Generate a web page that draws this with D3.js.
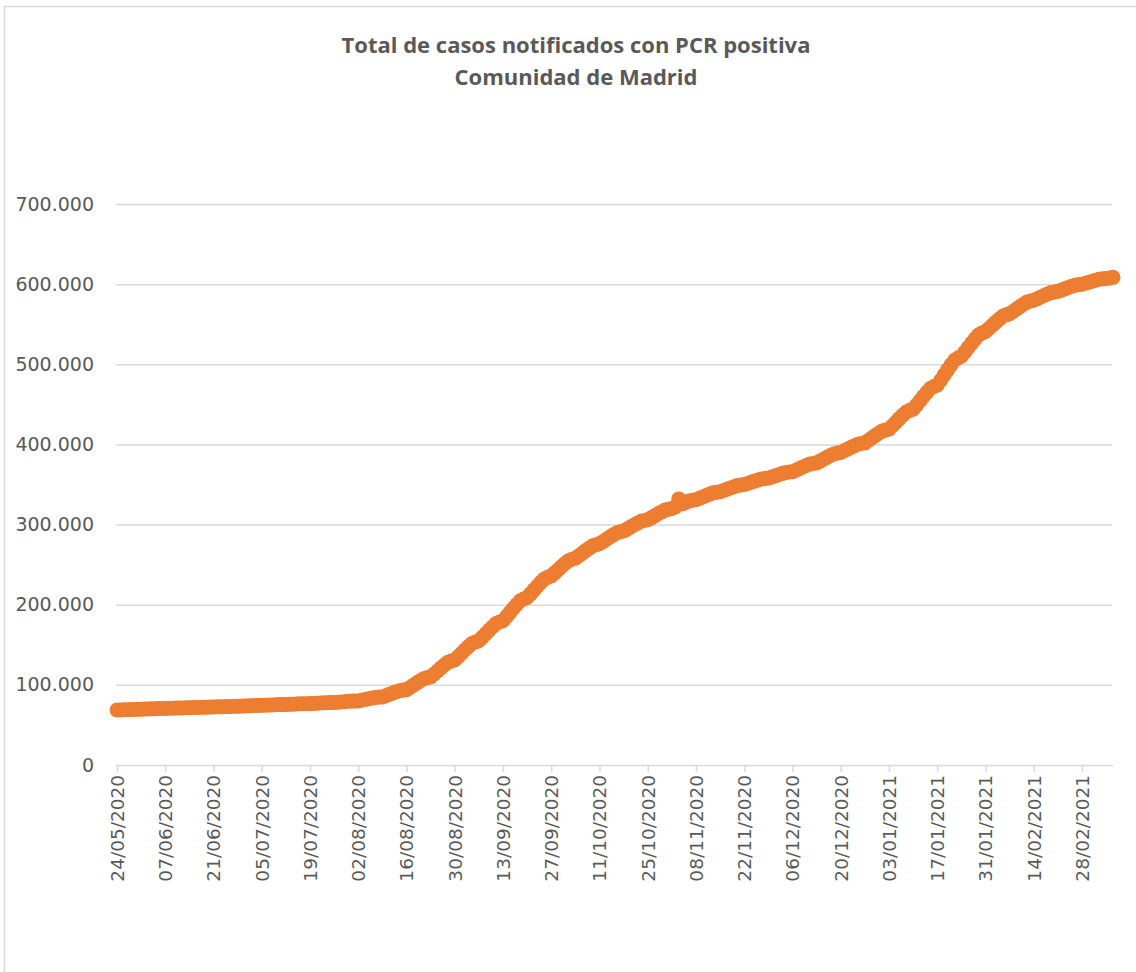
<!DOCTYPE html>
<html>
<head>
<meta charset="utf-8">
<script src="https://cdn.jsdelivr.net/npm/d3@7"></script>
<style>
  html, body { margin: 0; padding: 0; background: #fff; }
  svg { display: block; }
</style>
</head>
<body>
<svg id="chart" width="1136" height="972"></svg>
<script>
// ---- Data ----
const titleLines = ["Total de casos notificados con PCR positiva", "Comunidad de Madrid"];
const firstDate = "2020-05-24";   // one value per day from this date
const lastDate = "2021-03-09";
const yTicks = [0, 100000, 200000, 300000, 400000, 500000, 600000, 700000];
const xTickLabels = ["24/05/2020","07/06/2020","21/06/2020","05/07/2020","19/07/2020","02/08/2020",
  "16/08/2020","30/08/2020","13/09/2020","27/09/2020","11/10/2020","25/10/2020","08/11/2020",
  "22/11/2020","06/12/2020","20/12/2020","03/01/2021","17/01/2021","31/01/2021","14/02/2021","28/02/2021"];
const casos = [
  68600, 68750, 68900, 69050, 69200, 69350, 69450, 69600,
  69750, 69900, 70050, 70200, 70350, 70450, 70600,
  70730, 70860, 70990, 71120, 71250, 71380, 71500,
  71630, 71760, 71890, 72020, 72150, 72280, 72400,
  72530, 72660, 72790, 72920, 73050, 73180, 73300,
  73490, 73690, 73890, 74080, 74260, 74350, 74400,
  74590, 74790, 74990, 75180, 75360, 75450, 75500,
  75690, 75890, 76090, 76280, 76460, 76550, 76600,
  76840, 77090, 77340, 77580, 77800, 77910, 78000,
  78340, 78700, 79060, 79400, 79720, 79880, 80000,
  80850, 81750, 82650, 83500, 84300, 84700, 85000,
  86530, 88150, 89770, 91300, 92740, 93460, 94000,
  96720, 99600, 102480, 105200, 107760, 109040, 110000,
  113570, 117350, 121130, 124700, 128060, 129740, 131000,
  135080, 139400, 143720, 147800, 151640, 153560, 155000,
  159250, 163750, 168250, 172500, 176500, 178500, 180000,
  184930, 190150, 195370, 200300, 204940, 207260, 209000,
  213590, 218450, 223310, 227900, 232220, 234380, 236000,
  239740, 243700, 247660, 251400, 254920, 256680, 258000,
  261060, 264300, 267540, 270600, 273480, 274920, 276000,
  278720, 281600, 284480, 287200, 289760, 291040, 292000,
  294380, 296900, 299420, 301800, 304040, 305160, 306000,
  308380, 310900, 313420, 315800, 318040, 319160, 320000,
  321870, 332000, 325830, 327700, 329460, 330340, 331000,
  332700, 334500, 336300, 338000, 339600, 340400, 341000,
  342530, 344150, 345770, 347300, 348740, 349460, 350000,
  351360, 352800, 354240, 355600, 356880, 357520, 358000,
  359360, 360800, 362240, 363600, 364880, 365520, 366000,
  367870, 369850, 371830, 373700, 375460, 376340, 377000,
  379210, 381550, 383890, 386100, 388180, 389220, 390000,
  392040, 394200, 396360, 398400, 400320, 401280, 402000,
  404890, 407950, 411010, 413900, 416620, 417980, 419000,
  423250, 427750, 432250, 436500, 440500, 442500, 444000,
  449100, 454500, 459900, 465000, 469800, 472200, 474000,
  480120, 486600, 493080, 499200, 504960, 507840, 510000,
  515270, 520850, 526430, 531700, 536660, 539140, 541000,
  544740, 548700, 552660, 556400, 559920, 561680, 563000,
  565890, 568950, 572010, 574900, 577620, 578980, 580000,
  581870, 583850, 585830, 587700, 589460, 590340, 591000,
  592530, 594150, 595770, 597300, 598740, 599460, 600000,
  601190, 602450, 603710, 604900, 606020, 606580, 607000,
  607800, 608500
];

// ---- Chart ----
const svg = d3.select("#chart");
const W = 1136, H = 972;
const plot = { left: 117, right: 1113, top: 204, bottom: 765 };

const parse = d3.utcParse("%Y-%m-%d");
const parseLabel = d3.utcParse("%d/%m/%Y");
const d0 = parse(firstDate);
const data = casos.map((v, i) => ({ date: d3.utcDay.offset(d0, i), value: v }));

const x = d3.scaleUtc().domain([d0, parse(lastDate)]).range([plot.left, plot.right]);
const y = d3.scaleLinear().domain([0, 700000]).range([plot.bottom, plot.top]);

const locale = d3.formatLocale({ decimal: ",", thousands: ".", grouping: [3], currency: ["", " €"] });
const fmt = locale.format(",");

// outer border
svg.append("rect").attr("x", 4.5).attr("y", 6.5).attr("width", W + 20).attr("height", H + 20)
  .attr("fill", "#fff").attr("stroke", "#d9d9d9").attr("stroke-width", 1.5);

// title
svg.append("text").attr("x", 576).attr("y", 53).attr("text-anchor", "middle")
  .attr("font-family", "'Open Sans', Lato, sans-serif").attr("font-weight", "bold")
  .attr("font-size", 22).attr("fill", "#595959")
  .selectAll("tspan").data(titleLines).join("tspan")
  .attr("x", 576).attr("dy", (d, i) => i === 0 ? 0 : 32).text(d => d);

// gridlines + y axis
const yAxis = d3.axisLeft(y).tickValues(yTicks).tickFormat(fmt)
  .tickSize(-(plot.right - plot.left)).tickPadding(22);
const gy = svg.append("g").attr("transform", `translate(${plot.left - 1},0)`).call(yAxis);
gy.select(".domain").remove();
gy.selectAll(".tick line").attr("stroke", "#d9d9d9").attr("stroke-width", 1.5);
gy.selectAll(".tick text").attr("font-family", "'DejaVu Sans', sans-serif")
  .attr("font-size", 19).attr("fill", "#595959");
gy.selectAll(".tick").filter(d => d === 0).select("line").remove();

// x axis
const xTickDates = xTickLabels.map(s => parseLabel(s));
const xAxis = d3.axisBottom(x).tickValues(xTickDates).tickFormat(d3.utcFormat("%d/%m/%Y"))
  .tickSize(7).tickSizeOuter(0);
const gx = svg.append("g").attr("transform", `translate(0,${plot.bottom})`).call(xAxis);
gx.select(".domain").attr("stroke", "#d9d9d9").attr("stroke-width", 1.5)
  .attr("d", `M${plot.left - 1},0.5H${plot.right}`);
gx.selectAll(".tick line").attr("stroke", "#d9d9d9").attr("stroke-width", 1.5);
gx.selectAll(".tick text")
  .attr("font-family", "'DejaVu Sans', sans-serif").attr("font-size", 18.5).attr("fill", "#595959")
  .attr("text-anchor", "end")
  .attr("transform", "rotate(-90)")
  .attr("x", -10).attr("y", 0).attr("dy", "0.35em");

// series: line with big markers
const line = d3.line().x(d => x(d.date)).y(d => y(d.value));
svg.append("path").datum(data).attr("d", line)
  .attr("fill", "none").attr("stroke", "#ED7D31").attr("stroke-width", 2.5);
svg.append("g").selectAll("circle").data(data).join("circle")
  .attr("cx", d => x(d.date)).attr("cy", d => y(d.value)).attr("r", 7.5)
  .attr("fill", "#ED7D31");
</script>
</body>
</html>
